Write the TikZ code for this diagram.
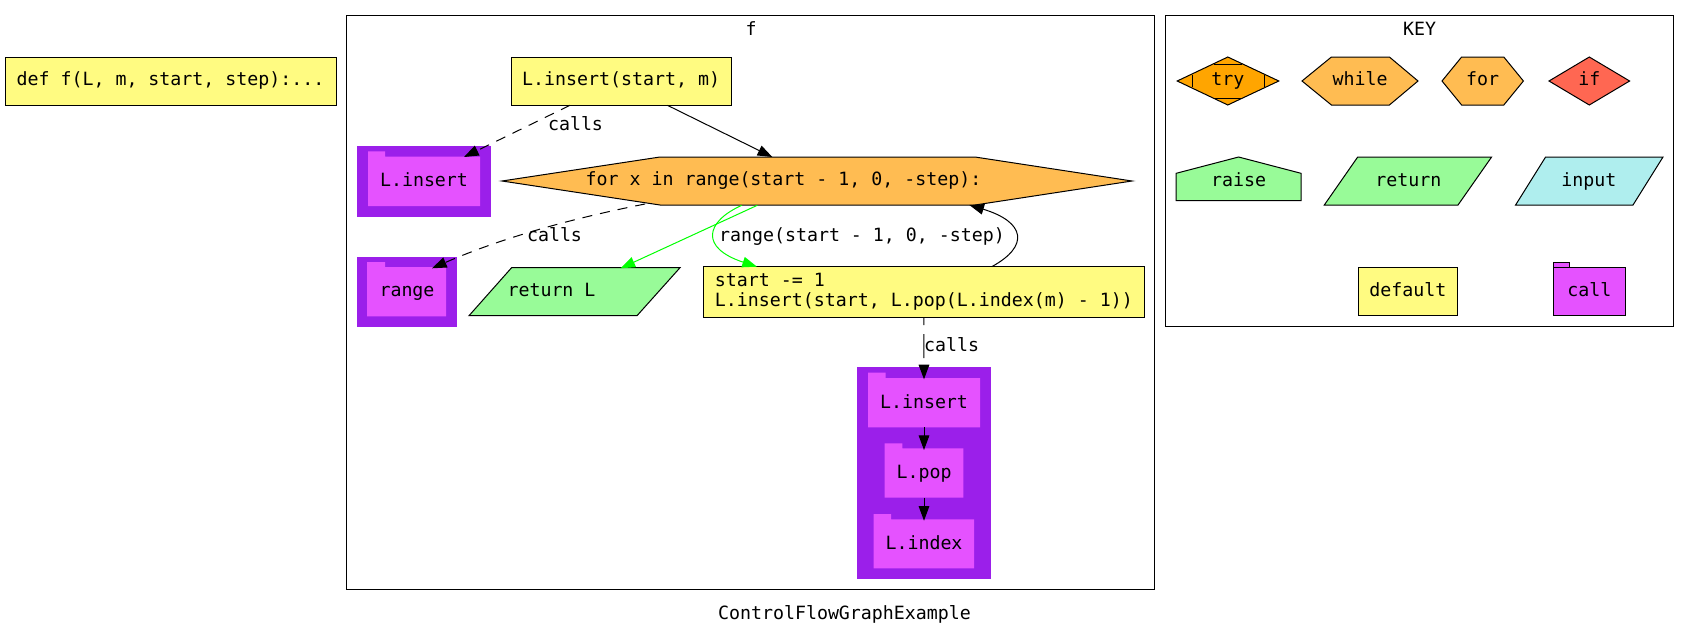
\documentclass[tikz,border=0pt]{standalone}
\usepackage{fontspec}
\setmainfont{DejaVu Sans Mono}
\usetikzlibrary{arrows.meta}
\definecolor{cyellow}{HTML}{FFFB81}
\definecolor{cgreen}{HTML}{98FB98}
\definecolor{cturq}{HTML}{AFEEEE}
\definecolor{ctan}{HTML}{FFBC52}
\definecolor{ctomato}{HTML}{FF6752}
\definecolor{corange}{HTML}{FFA500}
\definecolor{cpink}{HTML}{E552FF}
\definecolor{cpurple}{HTML}{9B1FEA}
\newcommand{\pxf}{\fontsize{13.7pt}{15pt}\selectfont}
% \boxnode{name}{x0}{y0}{x1}{y1}{style}{text}: a rectangle given by its px corners
\newcommand{\boxnode}[7]{%
  \path ({(#2+#4)/2},{(#3+#5)/2}) node[#6,minimum width={(#4-#2)*0.75pt},minimum height={(#5-#3)*0.75pt}] (#1) {#7};}
\tikzset{
  x=0.75pt,y=-0.75pt,
  every node/.style={font=\pxf,text=black,inner sep=0pt,outer sep=0pt},
  lbl/.style={text height=10pt,text depth=2.8pt},
  yellowbox/.style={lbl,draw=black,fill=cyellow,line width=0.75pt},
  plain/.style={lbl},
  edge/.style={line width=0.75pt,draw=black,-{Triangle[length=11pt,width=8pt]}},
  calledge/.style={edge,dash pattern=on 7.5pt off 6pt},
  vcalledge/.style={edge,dash pattern=on 6pt off 6.75pt on 18pt off 10pt},
  greenedge/.style={line width=0.75pt,draw=green,-{Triangle[length=11pt,width=8pt,fill=green]}},
  outline/.style={draw=black,line width=0.75pt},
  clusterfill/.style={fill=cpurple},
  folderfill/.style={fill=cpink},
  cframe/.style={draw=black,line width=0.75pt},
}
\begin{document}
\begin{tikzpicture}
\useasboundingbox (0,0) rectangle (1689,636);
\fill[white] (0,0) rectangle (1689,636);
% clusters
\draw[cframe] (346.4,15.7) rectangle (1154.3,589);
\draw[cframe] (1165,15.7) rectangle (1673.8,326.7);
\node[plain] (ftitle) at (751,30.3) {f};
\node[plain] (keytitle) at (1419.6,30.9) {KEY};
\node[plain] (maintitle) at (844.5,614.5) {ControlFlowGraphExample};
% top-level
\boxnode{def}{5}{57}{336}{105.3}{yellowbox}{def f(L, m, start, step):...}
\boxnode{ins}{511}{57}{731.3}{105.3}{yellowbox}{L.insert(start, m)}
% for
\draw[outline,fill=ctan] (502,181) -- (660,157) -- (975,157) -- (1132,181) -- (975,205) -- (660,205) -- cycle;
\node[plain] (forn) at (783.5,181) {for x in range(start - 1, 0, -step):};
% calls clusters
\fill[clusterfill] (357,146) rectangle (491,216.7);
\fill[folderfill] (368,206) -- (368,151.3) -- (385,151.3) -- (385,156.7) -- (480,156.7) -- (480,206) -- cycle;
\node[plain] (callinsert) at (424,181.3) {L.insert};
\fill[clusterfill] (357,256.7) rectangle (456.7,327.3);
\fill[folderfill] (367,316.3) -- (367,262) -- (385,262) -- (385,267) -- (446,267) -- (446,316.3) -- cycle;
\node[plain] (callrange) at (407,291.7) {range};
% return
\draw[outline,fill=cgreen] (469,315.7) -- (511.6,267.7) -- (680,267.7) -- (637,315.7) -- cycle;
\node[plain] (retn) at (551.5,291.7) {return L};
% start box
\boxnode{startn}{703.7}{266.7}{1144}{317}{draw=black,fill=cyellow,line width=0.75pt,align=left}{start -= 1\\L.insert(start, L.pop(L.index(m) - 1))}
% lower cluster
\fill[clusterfill] (856.7,367.3) rectangle (991,579);
\fill[folderfill] (868,427.3) -- (868,372.7) -- (885.7,372.7) -- (885.7,378) -- (980,378) -- (980,427.3) -- cycle;
\node[plain] (linsert) at (924,403.5) {L.insert};
\fill[folderfill] (884.7,497.7) -- (884.7,443.3) -- (902.3,443.3) -- (902.3,448.3) -- (963.3,448.3) -- (963.3,497.7) -- cycle;
\node[plain] (lpop) at (924,473.2) {L.pop};
\fill[folderfill] (873.7,568.3) -- (873.7,514) -- (891,514) -- (891,519.3) -- (974,519.3) -- (974,568.3) -- cycle;
\node[plain] (lindex) at (924,544.2) {L.index};
% edges
\draw[calledge] ([xshift=-51.15*0.75pt]ins.south) -- ([shift={(40,-24.3)}]callinsert.center);
\draw[edge] ([xshift=46.25*0.75pt]ins.south) -- ([shift={(-11.2,-24)}]forn.center);
\draw[calledge] ([shift={(-138.5,23)}]forn.center) .. controls ([shift={(-178.5,31)}]forn.center) and ([shift={(-263.5,49)}]forn.center) .. ([shift={(25,-23.4)}]callrange.center);
\draw[greenedge] ([shift={(-26.2,24.3)}]forn.center) -- ([shift={(69,-23.4)}]retn.center);
\draw[greenedge] ([shift={(-41.8,24.3)}]forn.center) .. controls ([shift={(-78.5,41)}]forn.center) and ([shift={(-83.5,67)}]forn.center) .. ([shift={(-166.85,-25.15)}]startn.center);
\draw[edge] ([shift={(67.85,-25.15)}]startn.center) .. controls ([shift={(106.15,-46)}]startn.center) and ([shift={(101.15,-70)}]startn.center) .. ([shift={(185.8,24)}]forn.center);
\draw[vcalledge] ([xshift=0.05*0.75pt]startn.south) -- ([shift={(0,-24.2)}]linsert.center);
\draw[edge] ([shift={(0,23.8)}]linsert.center) -- ([shift={(0,-23.2)}]lpop.center);
\draw[edge] ([shift={(0,24.5)}]lpop.center) -- ([shift={(0,-23.5)}]lindex.center);
% edge labels
\node[plain] (lab1) at (575.5,126) {calls};
\node[plain] (lab2) at (554.5,236.9) {calls};
\node[plain] (lab3) at (862,236.9) {range(start - 1, 0, -step)};
\node[plain] (lab4) at (951.7,346.9) {calls};
% key
\draw[outline,fill=corange] (1177.2,81) -- (1227.8,57) -- (1278.8,81) -- (1227.8,105) -- cycle;
\draw[outline] (1214,64) -- (1242,64) (1214,98) -- (1242,98) (1192.4,75) -- (1192.4,87.3) (1264,75) -- (1264,87.3);
\node[plain] (ktry) at (1227.8,81) {try};
\draw[outline,fill=ctan] (1302,81) -- (1331.4,57) -- (1389.4,57) -- (1418,81) -- (1389.4,105) -- (1331.4,105) -- cycle;
\node[plain] (kwhile) at (1360,81) {while};
\draw[outline,fill=ctan] (1442,81) -- (1461.6,57) -- (1503.8,57) -- (1523.4,81) -- (1503.8,105) -- (1461.6,105) -- cycle;
\node[plain] (kfor) at (1482.7,81) {for};
\draw[outline,fill=ctomato] (1549,81) -- (1589.3,57) -- (1629.6,81) -- (1589.3,105) -- cycle;
\node[plain] (kif) at (1589.3,81) {if};
\draw[outline,fill=cgreen] (1176.2,200.7) -- (1176.2,173.3) -- (1238.6,157) -- (1301,173.3) -- (1301,200.7) -- cycle;
\node[plain] (kraise) at (1238.6,181.2) {raise};
\draw[outline,fill=cgreen] (1324.3,205) -- (1357.7,157) -- (1491.6,157) -- (1458,205) -- cycle;
\node[plain] (kreturn) at (1408.3,181.2) {return};
\draw[outline,fill=cturq] (1515.6,205) -- (1545.6,157) -- (1663,157) -- (1633,205) -- cycle;
\node[plain] (kinput) at (1588.8,181.2) {input};
\boxnode{kdefault}{1358.7}{267.7}{1457.2}{315.7}{yellowbox}{default}
\draw[outline,fill=cpink] (1553.4,267.7) -- (1553.4,262.3) -- (1569.6,262.3) -- (1569.6,267.7) -- cycle;
\draw[outline,fill=cpink] (1553.4,267.7) rectangle (1625.3,315.7);
\node[plain] (kcall) at (1589.3,291.7) {call};
\end{tikzpicture}
\end{document}
